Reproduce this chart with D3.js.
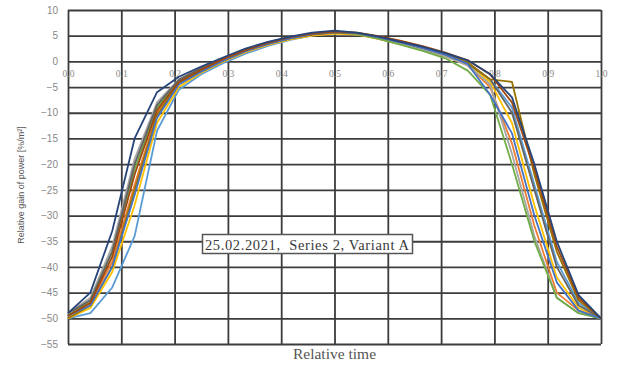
<!DOCTYPE html>
<html>
<head>
<meta charset="utf-8">
<script src="https://cdn.jsdelivr.net/npm/d3@7/dist/d3.min.js"></script>
<style>
  html, body { margin: 0; padding: 0; background: #fff; }
  svg { display: block; }
</style>
</head>
<body>
<svg id="chart" width="619" height="367"></svg>
<script>
// Relative time samples shared by every measurement run
const time = [0, 0.042, 0.083, 0.125, 0.167, 0.208, 0.25, 0.292, 0.333, 0.375, 0.417, 0.458,
              0.5, 0.542, 0.583, 0.625, 0.667, 0.708, 0.75, 0.792, 0.833, 0.875, 0.917, 0.958, 1.0];

// Relative gain of power [%/m²] for each run
const run1  = [-49, -45, -33, -15, -6, -3, -1, 0.8, 2.5, 3.8, 4.8, 5.6, 6.0, 5.6, 4.8, 3.8, 2.8, 1.6, 0.2, -2.5, -7, -20, -35, -45.5, -50];
const run2  = [-50, -49, -44, -34, -13.5, -5.5, -2.5, -0.3, 1.5, 3, 4.2, 5, 5.5, 5.3, 4.6, 3.7, 2.6, 1.3, -0.3, -3.5, -9, -24, -39, -47, -50];
const run3  = [-49.5, -47, -39, -24, -10, -4.2, -1.8, 0.2, 2, 3.4, 4.5, 5.2, 5.6, 5.3, 4.4, 3.3, 2.2, 1.0, -0.8, -5, -16, -32, -45, -48.5, -50];
const run4  = [-49, -46, -36, -19, -8, -3.5, -1.2, 0.6, 2.2, 3.6, 4.6, 5.3, 5.7, 5.4, 4.6, 3.5, 2.3, 1.0, -0.8, -4.5, -18, -34, -46, -49, -50];
const run5  = [-50, -48, -41, -28, -12, -5, -2.2, 0, 1.8, 3.2, 4.3, 5.0, 5.4, 5.2, 4.4, 3.4, 2.3, 1.1, -0.6, -4, -12, -28, -42, -48, -50];
const run6  = [-49.5, -47.5, -40, -26, -11, -4.5, -2, 0.2, 2, 3.4, 4.5, 5.3, 5.7, 5.5, 4.7, 3.7, 2.6, 1.3, -0.5, -6.5, -14, -30, -43, -48.5, -50];
const run7  = [-49.5, -46.5, -37, -21, -9, -3.8, -1.5, 0.4, 2.2, 3.6, 4.6, 5.3, 5.7, 5.3, 4.4, 3.2, 2.0, 0.6, -1.8, -6.5, -20, -35, -46, -49, -50];
const run8  = [-49.5, -47, -38, -22, -9.5, -4, -1.6, 0.5, 2.2, 3.6, 4.7, 5.4, 5.8, 5.6, 4.9, 4.0, 2.9, 1.7, 0.2, -2.5, -8, -21, -36, -46, -50];
const run9  = [-49, -46.5, -37, -20, -8.5, -3.6, -1.3, 0.6, 2.3, 3.7, 4.7, 5.4, 5.8, 5.5, 4.7, 3.7, 2.6, 1.3, -0.4, -3.5, -10, -25, -40, -47.5, -50];
const run10 = [-50, -47.5, -40, -25, -10.5, -4.3, -1.9, 0.2, 2, 3.4, 4.5, 5.2, 5.6, 5.5, 4.8, 3.9, 2.8, 1.5, -0.2, -3.5, -4, -22, -37, -46.5, -50];

const runs   = [run2, run5, run3, run4, run7, run9, run10, run6, run8, run1];
const colors = ["#5B9BD5", "#FFC000", "#ED7D31", "#A5A5A5", "#70AD47", "#636363", "#997300", "#4472C4", "#9E480E", "#264478"];

// Axis ticks
const xTicks = [0, 0.1, 0.2, 0.3, 0.4, 0.5, 0.6, 0.7, 0.8, 0.9, 1.0];
const xTickLabels = ["0.0", "0.1", "0.2", "0.3", "0.4", "0.5", "0.6", "0.7", "0.8", "0.9", "1.0"];
const yTicks = [10, 5, 0, -5, -10, -15, -20, -25, -30, -35, -40, -45, -50, -55];

const xTitle = "Relative time";
const yTitle = "Relative gain of power [%/m²]";
const note = "25.02.2021,  Series 2, Variant A";

const svg = d3.select("#chart");
const plotLeft = 68, plotRight = 601, plotTop = 10, plotBottom = 344;

const x = d3.scaleLinear().domain([0, 1]).range([plotLeft, plotRight]);
const y = d3.scaleLinear().domain([-55, 10]).range([plotBottom, plotTop]);

const gridColor = "#3c3c3c";

// Horizontal grid with y labels
svg.append("g")
  .attr("transform", `translate(${plotLeft},0)`)
  .call(d3.axisLeft(y).tickValues(yTicks).tickSize(-(plotRight - plotLeft)).tickFormat(d3.format("d")))
  .call(g => g.select(".domain").remove())
  .call(g => g.selectAll(".tick line").attr("stroke", gridColor).attr("stroke-width", 1.8))
  .call(g => g.selectAll(".tick text")
      .attr("x", -10)
      .attr("fill", "#888")
      .attr("font-family", "Liberation Sans, Arial, sans-serif")
      .attr("font-size", 10));

// Vertical grid
svg.append("g")
  .attr("transform", `translate(0,${plotTop})`)
  .call(d3.axisBottom(x).tickValues(xTicks).tickSize(plotBottom - plotTop).tickFormat(""))
  .call(g => g.select(".domain").remove())
  .call(g => g.selectAll(".tick line").attr("stroke", gridColor).attr("stroke-width", 1.8));

// X labels sit just under the zero line
svg.append("g")
  .attr("transform", `translate(0,${y(0)})`)
  .call(d3.axisBottom(x).tickValues(xTicks).tickSize(0).tickPadding(9)
        .tickFormat((d, i) => xTickLabels[i]))
  .call(g => g.select(".domain").remove())
  .call(g => g.selectAll(".tick text")
      .attr("fill", "#8a8a8a")
      .attr("font-family", "Liberation Serif, Times New Roman, serif")
      .attr("font-size", 9.5));

// Measurement curves
const line = d3.line()
  .x((d, i) => x(time[i]))
  .y(d => y(d));

svg.append("g").selectAll("path")
  .data(runs)
  .join("path")
  .attr("d", d => line(d))
  .attr("fill", "none")
  .attr("stroke", (d, i) => colors[i])
  .attr("stroke-width", 1.8)
  .attr("stroke-linejoin", "round");

// Annotation box
const noteG = svg.append("g");
noteG.append("rect")
  .attr("x", 202.5)
  .attr("y", 234.5)
  .attr("width", 210)
  .attr("height", 19)
  .attr("fill", "#fff")
  .attr("stroke", "#555")
  .attr("stroke-width", 1.5);
noteG.append("text")
  .attr("x", 205)
  .attr("y", 249.5)
  .attr("font-family", "Liberation Serif, Times New Roman, serif")
  .attr("font-size", 14.5)
  .attr("fill", "#3a3a3a")
  .attr("textLength", 204)
  .attr("lengthAdjust", "spacing")
  .style("white-space", "pre")
  .text(note);

// Axis titles
svg.append("text")
  .attr("x", (plotLeft + plotRight) / 2)
  .attr("y", 359)
  .attr("text-anchor", "middle")
  .attr("font-family", "Liberation Serif, Times New Roman, serif")
  .attr("font-size", 15.5)
  .attr("fill", "#555")
  .text(xTitle);

svg.append("text")
  .attr("transform", `translate(24,${(plotTop + plotBottom) / 2 + 8}) rotate(-90)`)
  .attr("text-anchor", "middle")
  .attr("font-family", "Liberation Sans, Arial, sans-serif")
  .attr("font-size", 9)
  .attr("fill", "#555")
  .text(yTitle);
</script>
</body>
</html>
